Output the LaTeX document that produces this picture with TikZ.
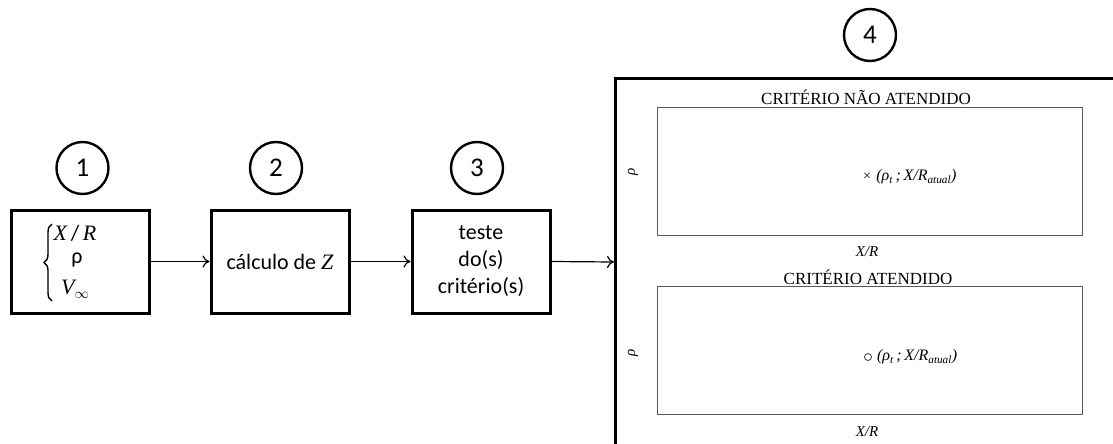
\documentclass[tikz,border=0pt]{standalone}
\usepackage{fontspec}
\setmainfont{Carlito}
\newfontfamily\tnr{Liberation Serif}
\usetikzlibrary{arrows.meta,decorations.pathreplacing}
\tikzset{
  stepbox/.style={draw, line width=3pt, minimum width=138pt, minimum height=103pt, inner sep=0pt, align=center, font=\fontsize{22}{27}\selectfont},
  numcirc/.style={draw, line width=2.4pt, circle, minimum size=52pt, inner sep=0pt, font=\fontsize{27}{30}\selectfont},
  mtext/.style={inner sep=0pt, font=\fontsize{22}{26}\selectfont},
  conn/.style={-{To[length=7pt,width=12pt]}, line width=1.2pt},
  plotbox/.style={draw=black!65, line width=1pt},
  ptitle/.style={font=\tnr\fontsize{17}{19}\selectfont, inner sep=0pt},
  axlab/.style={font=\tnr\itshape\fontsize{15}{17}\selectfont, inner sep=0pt},
  ptlab/.style={font=\tnr\itshape\fontsize{16}{18}\selectfont, inner sep=0pt, anchor=west},
}
\begin{document}
\begin{tikzpicture}[x=1pt,y=-1pt]
\useasboundingbox (0,0) rectangle (1113,444);
% numbered circles
\node[numcirc] (c1) at (82.5,168) {1};
\node[numcirc] (c2) at (276,168) {2};
\node[numcirc] (c3) at (477,168) {3};
\node[numcirc] (c4) at (870,35) {4};
% step boxes
\node[stepbox] (b1) at (80,261.5) {};
\coordinate (brT) at (52,224);
\coordinate (brB) at (52,301);
\draw[line width=1.4pt, decorate, decoration={brace, amplitude=8pt}] (brB) -- (brT);
\node[mtext] (v1) at (75,233) {{\tnr\itshape X}\,/\,{\tnr\itshape R}};
\node[mtext] (v2) at (77,260) {ρ};
\node[mtext] (v3) at (75,289) {{\tnr\itshape V}\raisebox{-4pt}{\fontsize{15}{17}\selectfont$\infty$}};
\node[stepbox] (b2) at (280,261.5) {cálculo de {\tnr\itshape Z}};
\node[stepbox] (b3) at (481,261.5) {teste\\do(s)\\critério(s)};
% big result frame (cut by the page at right and bottom)
\coordinate (fTL) at (615,78);
\coordinate (fR) at (1113,78);
\coordinate (fB) at (615,444);
\coordinate (fin) at (614,262);
\draw[line width=3pt] (fR) -- (fTL) -- (fB);
% connectors
\draw[conn] (b1.east) -- (b2.west);
\draw[conn] (b2.east) -- (b3.west);
\draw[conn] (b3.east) -- (fin);
% upper plot
\draw[plotbox] (657,107) rectangle (1082,235);
\node[ptitle] (t1) at (866,97) {CRITÉRIO NÃO ATENDIDO};
\node[axlab, rotate=90] (y1) at (633,172) {ρ};
\node[font=\tnr\fontsize{14}{15}\selectfont, inner sep=0pt] (p1) at (867,177) {×};
\node[ptlab] (l1) at ([xshift=5pt]p1.east) {(ρ\textsubscript{t}\,;\,X/R\textsubscript{atual})};
\node[axlab] (x1) at (867,252) {X/R};
% lower plot
\draw[plotbox] (657,286) rectangle (1082,414);
\node[ptitle] (t2) at (868,277) {CRITÉRIO ATENDIDO};
\node[axlab, rotate=90] (y2) at (633,353) {ρ};
\node[draw=black!70, circle, minimum size=7pt, inner sep=0pt, line width=0.9pt] (p2) at (868,357) {};
\node[ptlab] (l2) at ([xshift=5pt]p2.east) {(ρ\textsubscript{t}\,;\,X/R\textsubscript{atual})};
\node[axlab] (x2) at (867,432) {X/R};
\end{tikzpicture}
\end{document}
